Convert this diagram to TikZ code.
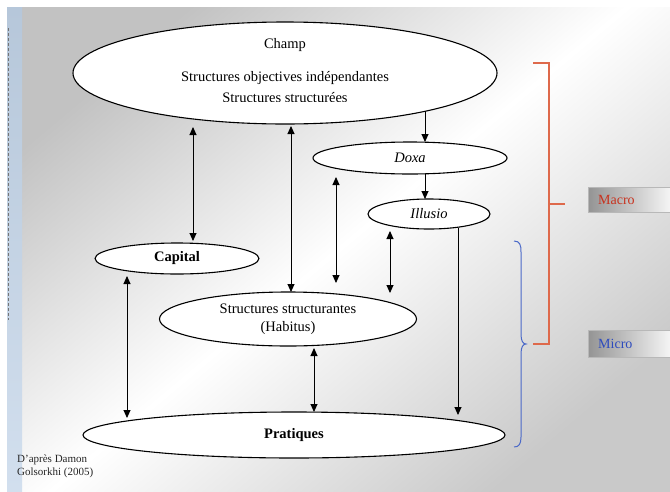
\documentclass[tikz,border=0pt]{standalone}
\usepackage{fontspec}
\setmainfont{Liberation Serif}
\usetikzlibrary{shapes.geometric,arrows.meta,calc}
\definecolor{bracketred}{RGB}{222,105,75}
\definecolor{macrored}{RGB}{200,50,30}
\definecolor{braceblue}{RGB}{75,105,200}
\definecolor{microblue}{RGB}{45,75,190}
\definecolor{stripA}{RGB}{182,199,218}
\definecolor{stripB}{RGB}{210,223,238}
\begin{document}
\begin{tikzpicture}[x=1pt,y=-1pt,
  oval/.style={ellipse, draw=black, fill=white, line width=1.1pt, inner sep=0pt},
  lbl/.style={font=\fontsize{14.5}{18}\selectfont, inner sep=0pt},
  tipA/.tip={Triangle[length=8pt,width=7pt]},
  dbl/.style={tipA-tipA, line width=0.9pt},
  one/.style={-tipA, line width=0.9pt},
  tagbox/.style={rectangle, draw=black!28, line width=0.4pt, left color=black!42, right color=black!4,
    minimum height=25pt, text width=62pt, inner xsep=10pt, inner ysep=0pt, align=left,
    font=\fontsize{14}{16}\selectfont, anchor=north west}
]
\useasboundingbox (0,0) rectangle (670,491);
\fill[white] (0,0) rectangle (670,491);
\shade[top color=black!24, bottom color=black!21, middle color=white, shading angle=40] (7,7) rectangle (670,491);
\shade[top color=stripA, bottom color=stripB] (7,7) rectangle (22,491);
\draw[black!55, line width=0.4pt, dash pattern=on 3pt off 2pt] (8,28) -- (8,320);

% ovals
\node[oval, minimum width=424pt, minimum height=102pt] (champ) at (285,73) {};
\node[lbl] (champt) at (285,45) {Champ};
\node[lbl] (objt) at (285,78) {Structures objectives indépendantes};
\begin{scope}
  \clip (150,85) rectangle (420,101.5);
  \node[lbl] (strt) at (285,98) {Structures structurées};
\end{scope}
\node[oval, lbl, minimum width=194pt, minimum height=32pt] (doxa) at (410,158) {\itshape Doxa};
\node[oval, lbl, minimum width=122pt, minimum height=30pt] (illusio) at (429,214) {\itshape Illusio};
\node[oval, lbl, minimum width=164pt, minimum height=31pt] (capital) at (177,258.5) {\bfseries Capital};
\node[oval, lbl, minimum width=257pt, minimum height=54pt, align=center] (habitus) at (288,319) {Structures structurantes\\(Habitus)};
\node[oval, lbl, minimum width=422pt, minimum height=46pt] (pratiques) at (294,435) {\bfseries Pratiques};

% connectors
\draw[dbl] ($(champ.center)+(-92,54)$) -- ($(capital.center)+(16,-17.5)$);
\draw[dbl] ($(champ.center)+(6,53)$) -- ($(habitus.center)+(3,-27)$);
\draw[one] ($(champ.center)+(140,38)$) -- ($(doxa.center)+(15,-16)$);
\draw[one] ($(doxa.center)+(15,16)$) -- ($(illusio.center)+(-4,-15)$);
\draw[dbl] ($(doxa.center)+(-74,19)$) -- ($(habitus.center)+(48,-36)$);
\draw[dbl] ($(illusio.center)+(-39,17)$) -- ($(habitus.center)+(102,-26)$);
\draw[one] ($(illusio.center)+(29,14)$) -- ($(pratiques.center)+(164,-20)$);
\draw[dbl] ($(capital.center)+(-50,17.5)$) -- ($(pratiques.center)+(-167,-17)$);
\draw[dbl] ($(habitus.center)+(26,29)$) -- ($(pratiques.center)+(20,-23)$);

% macro bracket and micro brace
\draw[bracketred, line width=1.2pt] (533,63) -- (549,63) -- (549,344) -- (533,344);
\draw[bracketred, line width=1.2pt] (549,204) -- (565,204);
\draw[braceblue, line width=1pt] (514,241) .. controls (520,241) and (521,245) .. (521,252)
  -- (521,334) .. controls (521,341) and (523,344) .. (526,344)
  .. controls (523,344) and (521,347) .. (521,354)
  -- (521,437) .. controls (521,444) and (519,447) .. (514,447);

% tags
\node[tagbox, text=macrored] (macro) at (588,187) {Macro};
\node[tagbox, text=microblue, minimum height=27pt] (micro) at (588,330) {Micro};

% source
\node[anchor=north west, align=left, inner sep=0pt, text=black!85, font=\fontsize{11}{12.5}\selectfont] (src) at (17,455) {D’après Damon\\Golsorkhi (2005)};
\end{tikzpicture}
\end{document}
